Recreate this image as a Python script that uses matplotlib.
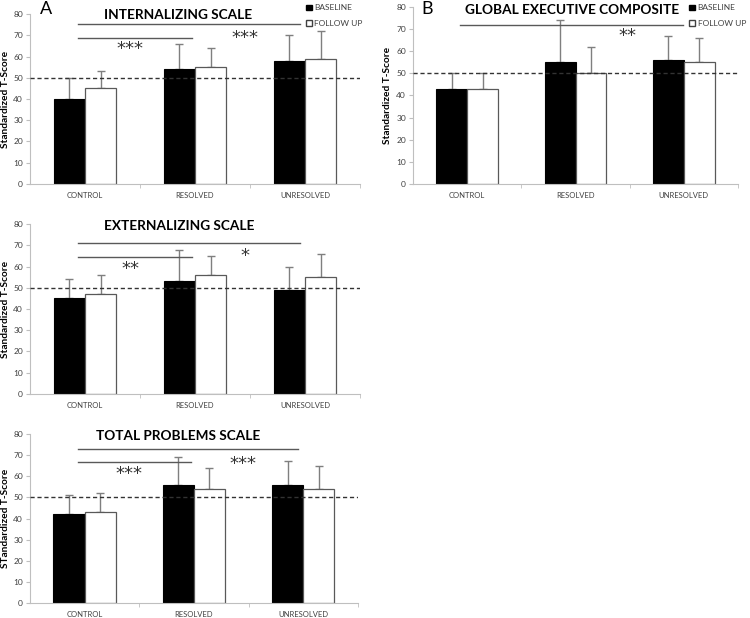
import matplotlib.pyplot as plt
import numpy as np
from matplotlib.patches import Patch

plt.rcParams['font.family'] = ['Lato', 'DejaVu Sans']

groups = ['CONTROL', 'RESOLVED', 'UNRESOLVED']

# internalizing
int_base = [40, 54, 58]
int_base_err = [10, 12, 12]
int_fu = [45, 55, 59]
int_fu_err = [8, 9, 13]

# global executive composite
gec_base = [43, 55, 56]
gec_base_err = [7, 19, 11]
gec_fu = [43, 50, 55]
gec_fu_err = [7, 12, 11]

# externalizing
ext_base = [45, 53, 49]
ext_base_err = [9, 15, 11]
ext_fu = [47, 56, 55]
ext_fu_err = [9, 9, 11]

# total problems
tot_base = [42, 56, 56]
tot_base_err = [9, 13, 11]
tot_fu = [43, 54, 54]
tot_fu_err = [9, 10, 11]

grey = '#7f7f7f'
txt = '#404040'


def panel(ax, title, base, base_err, fu, fu_err, ylabel, brackets, title_y, tx=1.0, lx=-0.061):
    x = np.arange(len(groups))
    w = 0.285
    zeros = [0] * len(groups)
    ax.bar(x - w / 2, base, w, color='black', edgecolor='black', linewidth=0.8, zorder=2)
    ax.bar(x + w / 2, fu, w, color='white', edgecolor='#595959', linewidth=0.9, zorder=2)
    ax.errorbar(x - w / 2, base, yerr=[zeros, base_err], fmt='none', ecolor=grey,
                elinewidth=1, capsize=3, capthick=1, zorder=1)
    ax.errorbar(x + w / 2, fu, yerr=[zeros, fu_err], fmt='none', ecolor=grey,
                elinewidth=1, capsize=3, capthick=1, zorder=1)
    ax.axhline(50, color='#333333', linestyle=(0, (3, 2)), linewidth=1, zorder=3)
    ax.set_xlim(-0.5, 2.5)
    ax.set_ylim(0, 80)
    ax.set_yticks(range(0, 81, 10))
    ax.set_xticks(x)
    ax.set_xticklabels(groups)
    ax.set_xticks([0.5, 1.5, 2.5], minor=True)
    ax.tick_params(axis='x', which='major', length=0, labelsize=5.5, labelcolor=txt, pad=6)
    ax.tick_params(axis='x', which='minor', length=3, color='#bfbfbf')
    ax.tick_params(axis='y', length=3, labelsize=6, labelcolor=txt, color='#bfbfbf', pad=2)
    for s in ['top', 'right']:
        ax.spines[s].set_visible(False)
    ax.spines['left'].set_color('#bfbfbf')
    ax.spines['bottom'].set_color('#bfbfbf')
    ax.set_ylabel(ylabel, fontsize=7.3, fontweight='bold')
    ax.yaxis.set_label_coords(lx, 0.5)
    ax.text(tx, title_y, title, ha='center', va='center', fontsize=9.8, fontweight='bold')
    for x0, x1, yl, stars, sx, sy in brackets:
        ax.plot([x0, x1], [yl, yl], color='#595959', linewidth=1, clip_on=False)
        ax.text(sx, sy, stars, ha='center', va='center', fontsize=13, color='#333333',
                family='DejaVu Sans')


fig = plt.figure(figsize=(7.5, 6.18), dpi=100)

axA = fig.add_axes([0.04, 0.7023, 0.44, 0.2750])
panel(axA, 'INTERNALIZING SCALE', int_base, int_base_err, int_fu, int_fu_err,
      'Standardized T-Score',
      [(-0.06, 1.95, 75.3, '***', 1.45, 68.5), (-0.06, 0.97, 68.7, '***', 0.41, 63.5)],
      title_y=79.5, tx=0.85)

axB = fig.add_axes([0.5507, 0.7023, 0.4333, 0.2864])
panel(axB, 'GLOBAL EXECUTIVE COMPOSITE', gec_base, gec_base_err, gec_fu, gec_fu_err,
      'Standardized T-Score',
      [(-0.065, 1.99, 71.9, '**', 1.48, 67.0)],
      title_y=78.6, tx=0.97, lx=-0.065)

axC = fig.add_axes([0.04, 0.3625, 0.44, 0.2750])
panel(axC, 'EXTERNALIZING SCALE', ext_base, ext_base_err, ext_fu, ext_fu_err,
      'Standardized T-Score',
      [(-0.06, 1.95, 71.0, '*', 1.45, 65.0), (-0.06, 0.97, 64.5, '**', 0.41, 59.0)],
      title_y=79.0, tx=0.86)

axD = fig.add_axes([0.04, 0.0243, 0.437, 0.2734])
panel(axD, 'TOTAL PROBLEMS SCALE', tot_base, tot_base_err, tot_fu, tot_fu_err,
      'STandardized T-Score',
      [(-0.06, 1.95, 72.9, '***', 1.45, 66.0), (-0.06, 0.97, 66.7, '***', 0.41, 61.0)],
      title_y=79.0, tx=0.86)

fig.text(0.053, 0.999, 'A', fontsize=13, va='top', ha='left')
fig.text(0.562, 0.999, 'B', fontsize=13, va='top', ha='left')

handles = [Patch(facecolor='black', edgecolor='black', label='BASELINE'),
           Patch(facecolor='white', edgecolor='#404040', label='FOLLOW UP')]
for xl in [0.398, 0.909]:
    fig.legend(handles=handles, loc='upper left', bbox_to_anchor=(xl, 1.005),
               frameon=False, fontsize=6, handlelength=0.7, handleheight=0.7,
               handletextpad=0.3, labelspacing=1.0, labelcolor=txt)

fig.savefig('out.png', dpi=100)
